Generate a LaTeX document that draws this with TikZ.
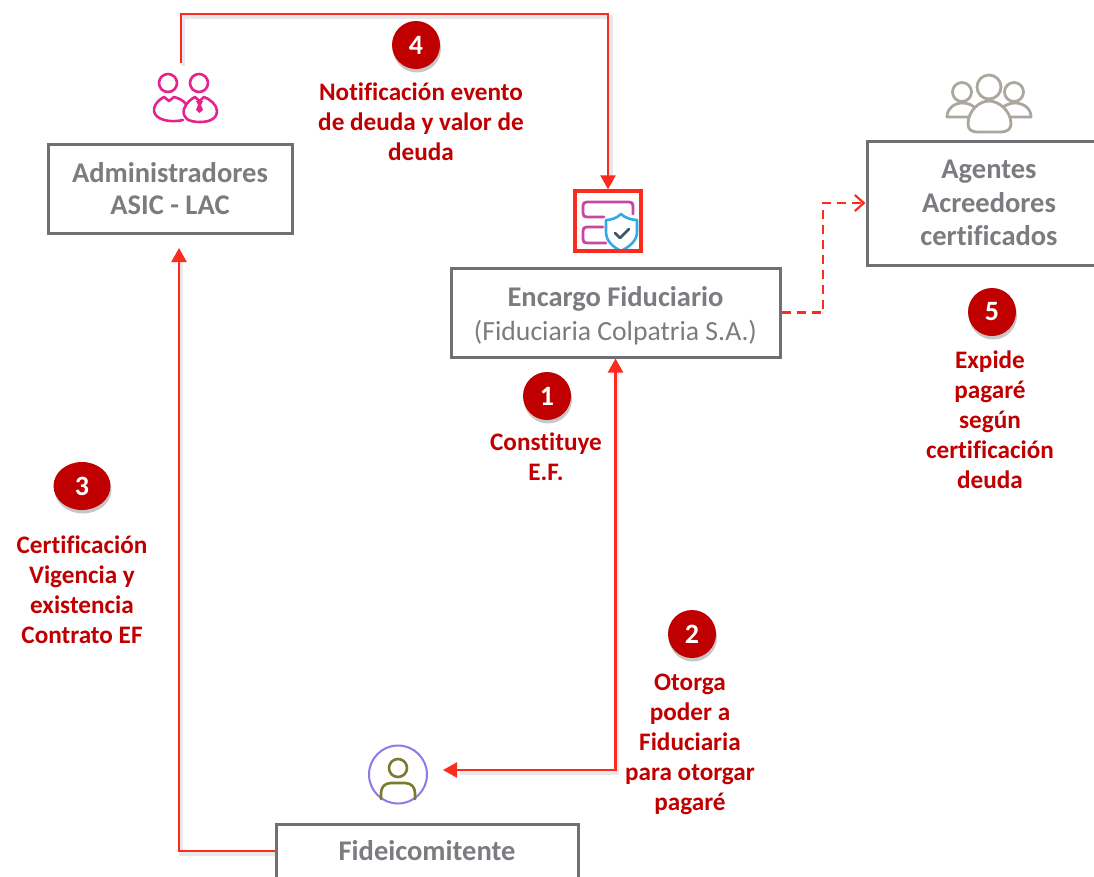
\documentclass[tikz,border=0pt]{standalone}
\usepackage{fontspec}
\setmainfont[RawFeature={-liga}]{Carlito}
\usetikzlibrary{arrows.meta,shadows,calc,shapes.geometric}
\definecolor{linered}{HTML}{FB2B1E}
\definecolor{labelred}{HTML}{C00000}
\definecolor{boxgray}{HTML}{6F7074}
\definecolor{txtgray}{HTML}{7B7C80}
\definecolor{pinkic}{HTML}{E6228C}
\definecolor{magic}{HTML}{C8479F}
\definecolor{blueic}{HTML}{35A9E8}
\definecolor{slateic}{HTML}{3A5468}
\definecolor{greyic}{HTML}{ABA79C}
\definecolor{oliveic}{HTML}{7C7A2E}
\definecolor{violetic}{HTML}{8B7BEA}
\tikzset{
  x=1pt,y=-1pt,
  flowbox/.style={draw=boxgray,line width=3pt,fill=white,align=center,text=txtgray,font=\fontsize{28.5}{33.5}\selectfont\bfseries,inner sep=0pt},
  badge/.style={ellipse,fill=labelred,draw=none,minimum width=48pt,minimum height=48pt,inner sep=0pt,text=white,font=\fontsize{28}{30}\selectfont\bfseries,drop shadow={shadow xshift=1pt,shadow yshift=-3.5pt,opacity=.22,fill=black}},
  steplabel/.style={align=center,text=labelred,font=\fontsize{25.2}{30}\selectfont\bfseries,inner sep=0pt},
  conn/.style={draw=linered,line width=2.4pt},
  tip/.style={-{Triangle[length=14pt,width=15pt]}},
  bothtips/.style={{Triangle[length=14pt,width=15pt]}-{Triangle[length=14pt,width=15pt]}},
  opentip/.style={-{Straight Barb[length=9pt,width=16pt,line width=2.2pt]}},
  softshadow/.style={draw=black!9,line width=3.5pt},
  icon/.style={line width=#1,line cap=round,line join=round,fill=none},
}
\begin{document}
\begin{tikzpicture}
\useasboundingbox (0,0) rectangle (1094,876);
\clip (0,0) rectangle (1094,876);
\fill[white] (0,0) rectangle (1094,876);

% soft shadows
\draw[softshadow] (183,66) -- (183,17) -- (611,17) -- (611,185);
\draw[softshadow] (617,365) -- (617,773) -- (460,773);
\draw[softshadow] (276,854) -- (181,854) -- (181,262);

% boxes
\node[flowbox,minimum width=244pt,minimum height=89pt] (admin) at (170,188.5) {Administradores\\[-1.5pt]ASIC - LAC};
\node[flowbox,minimum width=329pt,minimum height=89pt] (encargo) at (615.5,312.5) {\rule{0pt}{26pt}Encargo Fiduciario\\{\fontsize{27.7}{33.5}\selectfont\mdseries (Fiduciaria Colpatria S.A.)}};
\node[flowbox,minimum width=244pt,minimum height=124pt] (agentes) at (989,203) {Agentes\\Acreedores\\certificados};
\node[flowbox,minimum width=302pt,minimum height=54pt] (fide) at (427,851) {Fideicomitente};
% icon anchors
\node[draw=violetic,line width=2pt,circle,minimum size=58pt,inner sep=0pt] (person) at (398,774.5) {};
\coordinate (adminfoot) at (181,63);
\coordinate (adminin) at (179,248);
\coordinate (personin) at (443,770);

% form + shield icon (under the red frame)
\begin{scope}[draw=magic,icon=2.8pt]
  \draw (604,217) -- (587,217) .. controls (584,217) and (583,216) .. (583,213) -- (583,206) .. controls (583,203) and (584,202) .. (587,202) -- (629,202) .. controls (632,202) and (633,203) .. (633,206) -- (633,214);
  \draw (603,227) -- (587,227) .. controls (584,227) and (583,228) .. (583,231) -- (583,239) .. controls (583,242) and (584,243) .. (587,243) -- (606,243);
\end{scope}
\draw[blueic,icon=2.6pt] (621,214) .. controls (617,218) and (611,220) .. (606,220) -- (606,232) .. controls (606,241) and (613,247) .. (621,251) .. controls (629,247) and (637,241) .. (637,232) -- (637,220) .. controls (632,220) and (625,218) .. (621,214) -- cycle;
\draw[slateic,icon=2.8pt] (615,233) -- (620,238) -- (629,229);
\node[draw=linered,line width=3.4pt,minimum width=66pt,minimum height=60pt,inner sep=0pt] (shieldbox) at (608,221) {};

% connectors
\draw[conn,tip] (adminfoot) |- (400,14) -| (shieldbox.north);
\draw[conn,bothtips] (personin) -| (encargo.south);
\draw[conn,tip] (fide.west) -| (adminin);
\draw[conn,dashed,dash pattern=on 9pt off 6pt,opentip] (encargo.east) -- (823,312.5) |- (agentes.west);

% badges
\node[badge] (b1) at (547,396) {1};
\node[badge] (b2) at (692,634) {2};
\node[badge,minimum width=57pt] (b3) at (82,486) {3};
\node[badge] (b4) at (416,45) {4};
\node[badge] (b5) at (992,312) {5};

% labels
\node[steplabel] (l1) at (546,457) {Constituye\\E.F.};
\node[steplabel] (l2) at (690,744) {Otorga\\poder a\\Fiduciaria\\para otorgar\\pagaré};
\node[steplabel] (l3) at (82,590) {Certificación\\Vigencia y\\existencia\\Contrato EF};
\node[steplabel] (l4) at (421,122) {Notificación evento\\de deuda y valor de\\deuda};
\node[steplabel] (l5) at (990,420) {Expide\\pagaré\\según\\certificación\\deuda};

% pink people icon
\begin{scope}[draw=pinkic,icon=2.6pt]
  \draw (168,83) circle (9);
  \draw (199,83) circle (9);
  \draw (183,120) .. controls (175,122) and (160,122) .. (155,114) .. controls (151,106) and (160,99) .. (164,97) -- (169,101) -- (174,97) .. controls (178,98) and (183,100) .. (186,104);
  \draw (200,122) .. controls (188,122) and (182,118) .. (184,109) .. controls (186,103) and (191,99) .. (195,97) -- (199.5,101) -- (204,97) .. controls (210,99) and (217,105) .. (217,111) .. controls (217,119) and (209,122) .. (200,122);
  \fill[pinkic] (196,101) -- (203,101) -- (201,105) -- (203,110) -- (199.5,113) -- (196,110) -- (198,105) -- cycle;
\end{scope}

% grey people icon
\begin{scope}[draw=greyic,icon=2.8pt]
  \draw (962,92) circle (9.5);
  \draw (1014,92) circle (9.5);
  \draw (989,87) circle (12);
  \draw (969,117) -- (947,117) .. controls (947,108) and (955,103) .. (962,103) .. controls (966,103) and (971,104) .. (974,107);
  \draw (1010,117) -- (1031,117) .. controls (1031,108) and (1023,103) .. (1015,103) .. controls (1010,103) and (1006,105) .. (1003,107);
  \draw (977,132) .. controls (971,132) and (968,129) .. (968,124) .. controls (968,111) and (979,101) .. (989,101) .. controls (999,101) and (1011,111) .. (1011,124) .. controls (1011,129) and (1007,132) .. (1001,132) -- cycle;
\end{scope}

% person icon
\begin{scope}[draw=oliveic,icon=2.6pt]
  \draw (398,768) circle (9);
  \draw (381,799) -- (381,793) .. controls (381,787) and (385,783) .. (391,783) -- (405,783) .. controls (411,783) and (415,787) .. (415,793) -- (415,799);
\end{scope}
\end{tikzpicture}
\end{document}
